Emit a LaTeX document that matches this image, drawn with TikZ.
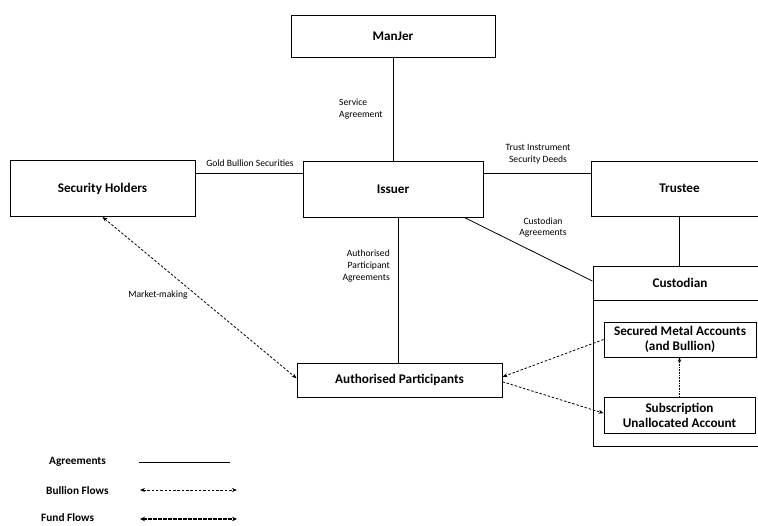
\documentclass[tikz,border=0pt]{standalone}
\usepackage{fontspec}
\setmainfont{Carlito}
\usetikzlibrary{arrows.meta,calc}
\begin{document}
\begin{tikzpicture}[x=1pt,y=-1pt,
  box/.style={draw,line width=0.9pt,inner sep=0pt,font=\fontsize{13.2}{15}\selectfont\bfseries,align=center},
  lbl/.style={inner sep=0pt,font=\fontsize{9.6}{11.8}\selectfont,align=center},
  leg/.style={inner sep=0pt,font=\fontsize{11.3}{13}\selectfont\bfseries},
  agr/.style={line width=0.8pt},
  bflow/.style={line width=0.8pt,dash pattern=on 2.5pt off 1.8pt,{Stealth[length=5pt,width=4pt]}-{Stealth[length=5pt,width=4pt]}},
  sflow/.style={line width=0.8pt,dash pattern=on 2.5pt off 1.8pt,-{Stealth[length=5pt,width=4pt]}},
  dflow/.style={line width=0.7pt,dash pattern=on 0.8pt off 0.8pt,-{Stealth[length=4.5pt,width=3.5pt]}},
  fflow/.style={line width=1.3pt,dash pattern=on 3.5pt off 1.5pt,{Stealth[length=5pt,width=4.5pt]}-{Stealth[length=5pt,width=4.5pt]}}
]
\clip (0,0) rectangle (758,525);
\fill[white] (0,0) rectangle (758,525);
% boxes
\node[box,minimum width=204pt,minimum height=42pt] (man) at (393,36) {ManJer};
\node[box,minimum width=185pt,minimum height=56pt] (sh) at (102.5,188.5) {Security Holders};
\node[box,minimum width=180pt,minimum height=56pt] (iss) at (393,189) {Issuer};
\node[box,minimum width=177pt,minimum height=55pt] (tru) at (679.5,188.5) {Trustee};
\node[draw,line width=0.9pt,minimum width=174pt,minimum height=180pt,inner sep=0pt] (custbox) at (680,356) {};
\node[box,minimum width=174pt,minimum height=34pt] (cust) at (680,283) {Custodian};
\node[box,minimum width=152pt,minimum height=35pt] (sec) at (680,339.5) {Secured Metal Accounts\\(and Bullion)};
\node[box,minimum width=151pt,minimum height=36pt] (sub) at (679.5,415) {Subscription\\Unallocated Account};
\node[box,minimum width=205pt,minimum height=34pt] (ap) at (399.5,380) {Authorised Participants};
% agreements
\draw[agr] (man.south) -- (man.south |- iss.north);
\draw[agr] ([yshift=-13.5pt]sh.north east) -- ([yshift=-13pt]iss.north west);
\draw[agr] ([yshift=-13pt]iss.north east) -- ([yshift=-13pt]tru.north west);
\draw[agr] ([xshift=5pt]iss.south) -- ([xshift=5pt]iss.south |- ap.north);
\coordinate (ic1) at ($(iss.south west)!0.894!(iss.south east)$);
\coordinate (ic2) at ($(custbox.north west)!0.086!(custbox.south west)$);
\draw[agr] (ic1) -- (ic2);
\draw[agr] (tru.south) -- (tru.south |- custbox.north);
% flows
\coordinate (sh1) at ($(sh.south west)!0.5!(sh.south east)$);
\coordinate (ap1) at ($(ap.north west)!0.45!(ap.south west)$);
\draw[bflow] (sh1) -- (ap1);
\coordinate (sec1) at (sec.west);
\coordinate (ap2) at ($(ap.north east)!0.41!(ap.south east)$);
\coordinate (ap3) at ($(ap.north east)!0.55!(ap.south east)$);
\coordinate (sub1) at ($(sub.north west)!0.45!(sub.south west)$);
\draw[sflow] (sec1) -- (ap2);
\draw[sflow] (ap3) -- (sub1);
\draw[dflow] (sub.north) -- (sub.north |- sec.south);
% labels
\node[lbl,anchor=west,align=left] (l1) at (339,109) {Service\\Agreement};
\node[lbl] (l2) at (250,163) {Gold Bullion Securities};
\node[lbl] (l3) at (538,154.5) {Trust Instrument\\Security Deeds};
\node[lbl] (l4) at (543,227.5) {Custodian\\Agreements};
\node[lbl,anchor=east,align=right] (l5) at (390,266) {Authorised\\Participant\\Agreements};
\node[lbl] (l6) at (158,295) {Market-making};
% legend
\node[leg,anchor=west] (g1) at (49,462) {Agreements};
\node[leg,anchor=west] (g2) at (46,491) {Bullion Flows};
\node[leg,anchor=west] (g3) at (41,518) {Fund Flows};
\coordinate (a1) at (139,462); \coordinate (a2) at (230,462);
\coordinate (b1) at (140,490); \coordinate (b2) at (237,490);
\coordinate (c1) at (140,519); \coordinate (c2) at (237,519);
\draw[agr] (a1) -- (a2);
\draw[bflow] (b1) -- (b2);
\draw[fflow] (c1) -- (c2);
\end{tikzpicture}
\end{document}
